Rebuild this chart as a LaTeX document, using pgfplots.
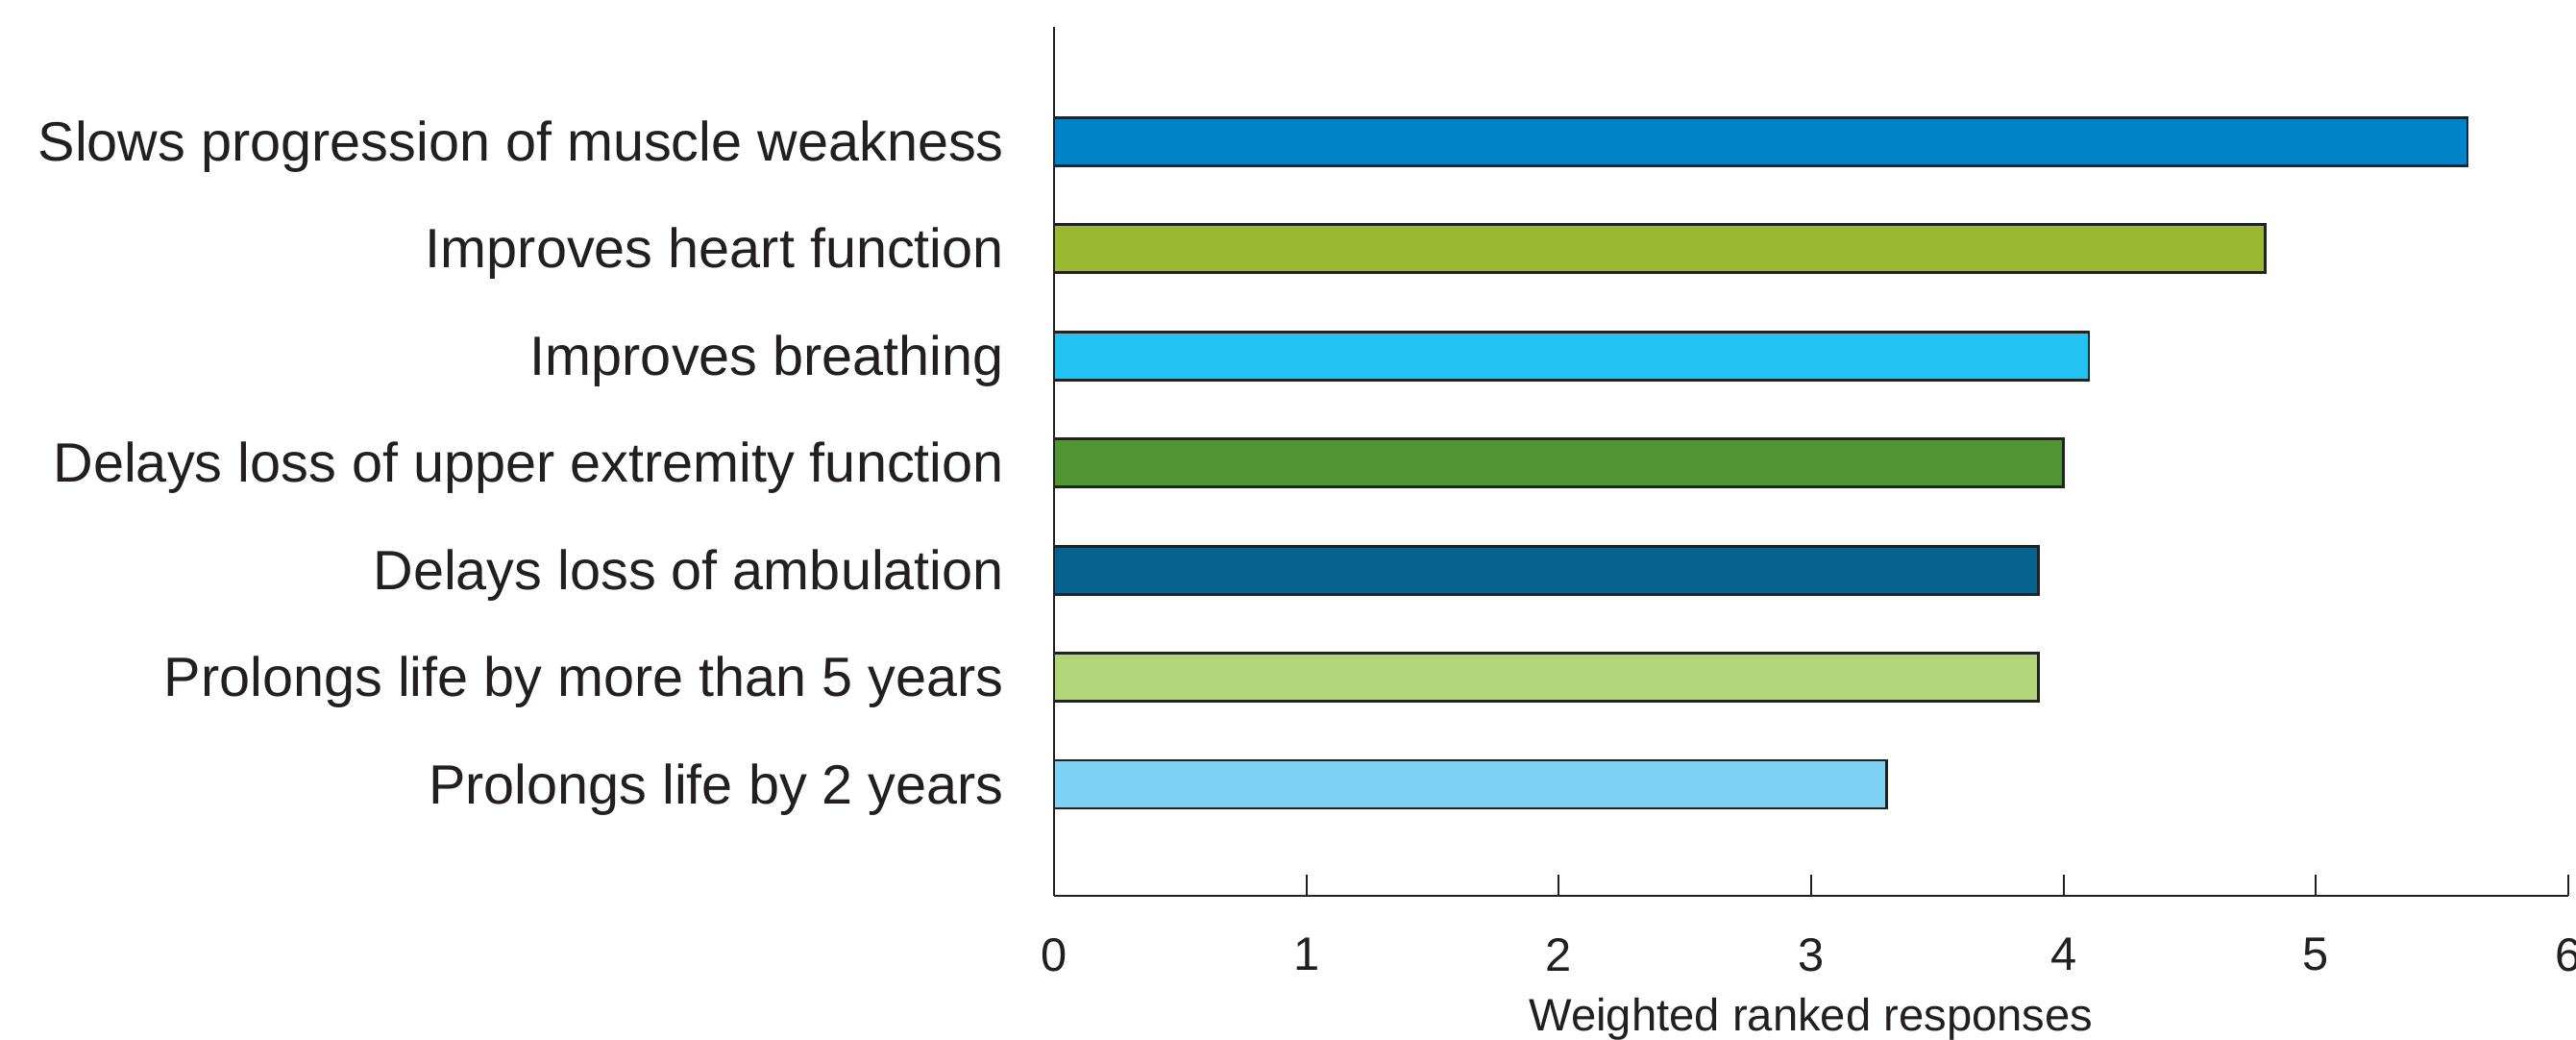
\documentclass[border=0pt]{standalone}
\usepackage{fontspec}
\setmainfont{Liberation Sans}
\usepackage{pgfplots}
\pgfplotsset{compat=1.18}
\definecolor{c1}{HTML}{0083C8}
\definecolor{c2}{HTML}{9AB831}
\definecolor{c3}{HTML}{22C3F0}
\definecolor{c4}{HTML}{509533}
\definecolor{c5}{HTML}{06628C}
\definecolor{c6}{HTML}{B0D677}
\definecolor{c7}{HTML}{7DD1F5}
\definecolor{axiscol}{HTML}{231F20}
\definecolor{barline}{HTML}{222222}
\begin{document}
\begin{tikzpicture}
\begin{axis}[
  at={(0,0)}, anchor=south west,
  scale only axis, width=394pt, height=226pt,
  xmin=0, xmax=6, ymin=-1.04, ymax=7.07,
  axis x line*=bottom, axis y line*=left,
  axis line style={draw=axiscol, line width=0.7pt},
  xtick={0,1,2,3,4,5,6}, xtick align=inside, major tick length=5.5pt,
  xtick style={draw=axiscol, line width=0.55pt},
  ytick={0,1,2,3,4,5,6}, ytick style={draw=none},
  yticklabels={Prolongs life by 2 years, Prolongs life by more than 5 years, Delays loss of ambulation, Delays loss of upper extremity function, Improves breathing, Improves heart function, Slows progression of muscle weakness},
  yticklabel style={font=\fontsize{14.4}{17}\selectfont, text=axiscol, anchor=east, xshift=-4pt, yshift=-1.3pt},
  xticklabel style={font=\fontsize{12.2}{14}\selectfont, text=axiscol, yshift=-7.5pt},
  /pgf/number format/assume math mode=true,
  xlabel={Weighted ranked responses},
  xlabel style={font=\fontsize{11.8}{14}\selectfont, text=axiscol, at={(axis description cs:0.5,0)}, anchor=center, yshift=-32pt},
  xbar, bar width=12.5pt, bar shift=0pt,
  clip=false,
]
\addplot[fill=c7, draw=barline, line width=0.7pt] coordinates {(3.3,0)};
\addplot[fill=c6, draw=barline, line width=0.7pt] coordinates {(3.9,1)};
\addplot[fill=c5, draw=barline, line width=0.7pt] coordinates {(3.9,2)};
\addplot[fill=c4, draw=barline, line width=0.7pt] coordinates {(4.0,3)};
\addplot[fill=c3, draw=barline, line width=0.7pt] coordinates {(4.1,4)};
\addplot[fill=c2, draw=barline, line width=0.7pt] coordinates {(4.8,5)};
\addplot[fill=c1, draw=barline, line width=0.7pt] coordinates {(5.6,6)};
\end{axis}
\pgfresetboundingbox
\path[use as bounding box] (-274.25pt,-37.5pt) rectangle (396pt,233pt);
\end{tikzpicture}
\end{document}
